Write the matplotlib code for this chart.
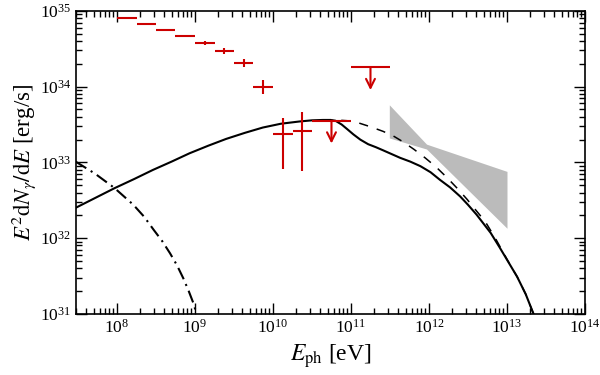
import numpy as np
import matplotlib
matplotlib.use("Agg")
import matplotlib.pyplot as plt

plt.rcParams['font.family'] = ['Liberation Serif', 'DejaVu Serif']
plt.rcParams['mathtext.fontset'] = 'stix'

# Fermi-LAT points: energy bin edges [eV], flux [erg/s], errors
fermi_elo = [1.0e8, 1.78e8, 3.16e8, 5.62e8, 1.0e9, 1.78e9, 3.16e9, 5.62e9, 1.0e10, 1.78e10]
fermi_ehi = [1.78e8, 3.16e8, 5.62e8, 1.0e9, 1.78e9, 3.16e9, 5.62e9, 1.0e10, 1.78e10, 3.16e10]
fermi_flux = [8.1e34, 6.8e34, 5.6e34, 4.7e34, 3.8e34, 2.95e34, 2.05e34, 9.8e33, 2.35e33, 2.6e33]
fermi_errlo = [2.4e33, 2.0e33, 1.7e33, 1.4e33, 2.2e33, 2.3e33, 2.3e33, 1.9e33, 1.52e33, 1.84e33]
fermi_errhi = [2.4e33, 2.0e33, 1.7e33, 1.4e33, 2.3e33, 2.5e33, 2.5e33, 2.3e33, 1.45e33, 2.0e33]

# upper limits
ul_elo = [3.16e10, 1.0e11]
ul_ehi = [1.0e11, 3.16e11]
ul_flux = [3.55e33, 1.8e34]

# HESS bowtie
hess_e = [3.1e11, 9.3e11, 1.0e13]
hess_upper = [5.75e33, 1.74e33, 7.6e32]
hess_lower = [2.1e33, 1.5e33, 1.35e32]

# model curves (log10 E, log10 flux)
total_logE = [7.47, 7.72, 7.97, 8.22, 8.46, 8.70, 8.93, 9.17, 9.40, 9.64, 9.87, 10.10, 10.34,
              10.50, 10.64, 10.74, 10.80, 10.88, 10.95, 11.03, 11.12, 11.22, 11.32, 11.41,
              11.52, 11.63, 11.76, 11.89, 12.02, 12.14, 12.27, 12.40, 12.50, 12.61, 12.70,
              12.79, 12.91, 13.02, 13.13, 13.24, 13.34]
total_logF = [32.40, 32.53, 32.66, 32.78, 32.90, 33.01, 33.12, 33.22, 33.31, 33.39, 33.46, 33.51,
              33.54, 33.555, 33.56, 33.56, 33.55, 33.50, 33.44, 33.37, 33.30, 33.24, 33.20,
              33.16, 33.11, 33.06, 33.01, 32.95, 32.87, 32.77, 32.67, 32.55, 32.44, 32.31,
              32.19, 32.07, 31.87, 31.68, 31.49, 31.26, 31.00]
noabs_logE = [10.64, 10.80, 10.95, 11.07, 11.25, 11.41, 11.54, 11.67, 11.81, 11.95, 12.09,
              12.23, 12.36, 12.49, 12.60, 12.72, 12.85, 13.00, 13.13, 13.24, 13.34]
noabs_logF = [33.56, 33.56, 33.55, 33.53, 33.47, 33.41, 33.35, 33.27, 33.17, 33.06, 32.94,
              32.80, 32.66, 32.51, 32.37, 32.22, 32.00, 31.72, 31.49, 31.26, 31.00]
low_logE = [7.47, 7.72, 7.97, 8.21, 8.35, 8.47, 8.58, 8.68, 8.77, 8.85, 8.92, 8.98, 9.02]
low_logF = [33.01, 32.85, 32.66, 32.44, 32.28, 32.11, 31.96, 31.80, 31.64, 31.47, 31.30, 31.14, 31.00]

red = '#cc0000'

fig = plt.figure(figsize=(6, 3.75), dpi=100)
ax = fig.add_axes([0.127, 0.163, 0.848, 0.808])

ax.fill_between(hess_e, hess_lower, hess_upper, color='#bbbbbb', lw=0, zorder=1)

ax.plot(10**np.array(noabs_logE), 10**np.array(noabs_logF), color='k', lw=1.1,
        ls=(0, (6, 6)), zorder=2)
ax.plot(10**np.array(total_logE), 10**np.array(total_logF), color='k', lw=1.5, zorder=3)
ax.plot(10**np.array(low_logE), 10**np.array(low_logF), color='k', lw=1.5,
        ls=(0, (6, 2.5, 1, 2.5)), zorder=3)

elo = np.array(fermi_elo)
ehi = np.array(fermi_ehi)
ec = np.sqrt(elo * ehi)
ax.errorbar(ec, fermi_flux, xerr=[ec - elo, ehi - ec], yerr=[fermi_errlo, fermi_errhi],
            fmt='none', ecolor=red, elinewidth=1.5, capsize=0, zorder=4)

ulo = np.array(ul_elo)
uhi = np.array(ul_ehi)
uc = np.sqrt(ulo * uhi)
ax.errorbar(uc, ul_flux, xerr=[uc - ulo, uhi - uc], fmt='none', ecolor=red,
            elinewidth=1.5, capsize=0, zorder=4)
for x, y in zip(uc, ul_flux):
    ax.annotate('', xy=(x, y * 0.5), xytext=(x, y),
                arrowprops=dict(arrowstyle='->', color=red, lw=1.5,
                                mutation_scale=16, shrinkA=0, shrinkB=0), zorder=4)

ax.set_xscale('log')
ax.set_yscale('log')
ax.set_xlim(3e7, 1e14)
ax.set_ylim(1e31, 1e35)
ax.set_xticks([1e8, 1e9, 1e10, 1e11, 1e12, 1e13, 1e14])
ax.set_yticks([1e31, 1e32, 1e33, 1e34, 1e35])

ax.tick_params(which='both', direction='in', top=True, right=True, labelsize=12.5, width=1)
ax.tick_params(which='major', length=8)
ax.tick_params(which='minor', length=4)
for s in ax.spines.values():
    s.set_linewidth(1.2)

ax.set_xlabel(r'$E_{\rm ph}$ [eV]', fontsize=17)
ax.set_ylabel(r'$E^2\mathrm{d}N_\gamma/\mathrm{d}E$ [erg/s]', fontsize=16.5, labelpad=1)

fig.savefig('out.png', dpi=100)
